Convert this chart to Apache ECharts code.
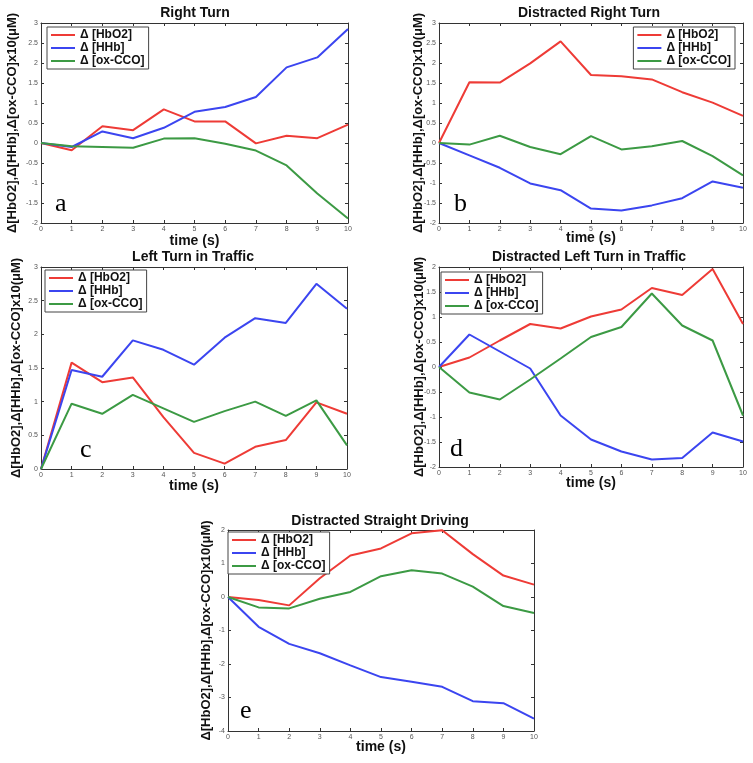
<!DOCTYPE html>
<html>
<head>
<meta charset="utf-8">
<script src="https://cdn.jsdelivr.net/npm/echarts@6/dist/echarts.min.js"></script>
<style>
  html, body { margin: 0; padding: 0; background: #fff; }
  #chart { width: 753px; height: 763px; }
</style>
</head>
<body>
<div id="chart"></div>
<script>
// time axis
const timeS = [0, 1, 2, 3, 4, 5, 6, 7, 8, 9, 10];
const seriesNames = ['Δ [HbO2]', 'Δ [HHb]', 'Δ [ox-CCO]'];

// a - Right Turn
const rtHbO2 = [0, -0.18, 0.42, 0.32, 0.84, 0.54, 0.54, -0.01, 0.18, 0.12, 0.46];
const rtHHb = [0, -0.1, 0.29, 0.12, 0.38, 0.78, 0.9, 1.15, 1.89, 2.14, 2.85];
const rtOxCCO = [0, -0.08, -0.1, -0.12, 0.11, 0.12, -0.02, -0.19, -0.56, -1.26, -1.89];

// b - Distracted Right Turn
const drtHbO2 = [0, 1.52, 1.51, 1.99, 2.54, 1.7, 1.67, 1.59, 1.27, 1.01, 0.68];
const drtHHb = [0, -0.31, -0.62, -1.01, -1.18, -1.64, -1.69, -1.56, -1.38, -0.96, -1.12];
const drtOxCCO = [0, -0.04, 0.18, -0.1, -0.28, 0.17, -0.16, -0.08, 0.05, -0.33, -0.81];

// c - Left Turn in Traffic
const ltHbO2 = [0, 1.58, 1.29, 1.36, 0.77, 0.24, 0.08, 0.33, 0.43, 0.99, 0.82];
const ltHHb = [0, 1.47, 1.37, 1.91, 1.77, 1.55, 1.95, 2.24, 2.17, 2.75, 2.38];
const ltOxCCO = [0, 0.97, 0.82, 1.1, 0.9, 0.7, 0.86, 1.0, 0.79, 1.02, 0.35];

// d - Distracted Left Turn in Traffic
const dltHbO2 = [0, 0.19, 0.53, 0.86, 0.77, 1.01, 1.15, 1.58, 1.44, 1.96, 0.86];
const dltHHb = [0, 0.65, 0.31, -0.03, -0.97, -1.45, -1.69, -1.85, -1.82, -1.31, -1.49];
const dltOxCCO = [0, -0.51, -0.65, -0.25, 0.17, 0.6, 0.8, 1.47, 0.83, 0.53, -0.97];

// e - Distracted Straight Driving
const dsdHbO2 = [0, -0.09, -0.25, 0.56, 1.24, 1.45, 1.9, 1.99, 1.28, 0.64, 0.37];
const dsdHHb = [0, -0.89, -1.4, -1.68, -2.04, -2.39, -2.53, -2.68, -3.11, -3.17, -3.63];
const dsdOxCCO = [0, -0.31, -0.34, -0.05, 0.15, 0.62, 0.8, 0.7, 0.31, -0.27, -0.48];

const colors = ['#ee3b36', '#3b45f0', '#3c9a44'];
const sansFont = '"Liberation Sans", Arial, sans-serif';

// panel layout
const panels = [
  { title: 'Right Turn', letter: 'a', data: [rtHbO2, rtHHb, rtOxCCO],
    grid: [41, 23, 307, 200], y: [-2, 3, 0.5], titleX: 195, titleY: 6,
    legend: { left: 47, top: 27 }, nameGap: 22, xGap: 11, letterPos: [55, 204] },
  { title: 'Distracted Right Turn', letter: 'b', data: [drtHbO2, drtHHb, drtOxCCO],
    grid: [439, 23, 304, 200], y: [-2, 3, 0.5], titleX: 589, titleY: 6,
    legend: { right: 18, top: 27 }, nameGap: 14, xGap: 8, letterPos: [454, 204] },
  { title: 'Left Turn in Traffic', letter: 'c', data: [ltHbO2, ltHHb, ltOxCCO],
    grid: [41, 267, 306, 202], y: [0, 3, 0.5], titleX: 193, titleY: 250,
    legend: { left: 45, top: 270 }, nameGap: 18, xGap: 10, letterPos: [80, 450] },
  { title: 'Distracted Left Turn in Traffic', letter: 'd', data: [dltHbO2, dltHHb, dltOxCCO],
    grid: [439, 267, 304, 200], y: [-2, 2, 0.5], titleX: 589, titleY: 250,
    legend: { left: 441, top: 272 }, nameGap: 13, xGap: 9, letterPos: [450, 449] },
  { title: 'Distracted Straight Driving', letter: 'e', data: [dsdHbO2, dsdHHb, dsdOxCCO],
    grid: [228, 530, 306, 201], y: [-4, 2, 1], titleX: 380, titleY: 514,
    legend: { left: 228, top: 532 }, nameGap: 15, xGap: 9, letterPos: [240, 711] }
];

const chart = echarts.init(document.getElementById('chart'));

const grids = [], xAxes = [], yAxes = [], series = [], titles = [], legends = [], texts = [];

const axisLine = { show: true, onZero: false, lineStyle: { color: '#333', width: 1 } };
const tickStyle = { show: true, inside: true, length: 3, lineStyle: { color: '#333' } };
const tickLabel = { fontSize: 7, color: '#555', fontFamily: sansFont, margin: 3 };

panels.forEach((p, i) => {
  grids.push({ left: p.grid[0], top: p.grid[1], width: p.grid[2], height: p.grid[3],
    show: true, backgroundColor: '#fff', borderWidth: 0 });

  // bottom + top x axes
  xAxes.push({
    type: 'value', gridIndex: i, min: 0, max: 10, interval: 1, position: 'bottom',
    axisLine, axisTick: tickStyle, splitLine: { show: false },
    axisLabel: tickLabel,
    name: 'time (s)', nameLocation: 'middle', nameGap: p.xGap, nameMoveOverlap: false,
    nameTextStyle: { fontSize: 14, fontWeight: 'bold', color: '#111', fontFamily: sansFont }
  });
  xAxes.push({
    type: 'value', gridIndex: i, min: 0, max: 10, interval: 1, position: 'top',
    axisLine, axisTick: tickStyle, splitLine: { show: false }, axisLabel: { show: false }
  });

  // left + right y axes
  yAxes.push({
    type: 'value', gridIndex: i, min: p.y[0], max: p.y[1], interval: p.y[2], position: 'left',
    axisLine, axisTick: tickStyle, splitLine: { show: false },
    axisLabel: tickLabel,
    name: 'Δ[HbO2],Δ[HHb],Δ[ox-CCO]x10(μM)', nameLocation: 'middle', nameGap: p.nameGap,
    nameMoveOverlap: false,
    nameTextStyle: { fontSize: 13, fontWeight: 'bold', color: '#111', fontFamily: sansFont }
  });
  yAxes.push({
    type: 'value', gridIndex: i, min: p.y[0], max: p.y[1], interval: p.y[2], position: 'right',
    axisLine, axisTick: tickStyle, splitLine: { show: false }, axisLabel: { show: false }
  });

  p.data.forEach((vals, k) => {
    series.push({
      name: seriesNames[k], type: 'line', xAxisIndex: 2 * i, yAxisIndex: 2 * i,
      symbol: 'none', color: colors[k], lineStyle: { width: 2, color: colors[k] },
      data: timeS.map((t, j) => [t, vals[j]])
    });
  });

  titles.push({
    text: p.title, left: p.titleX, top: p.titleY, textAlign: 'center', padding: 0,
    textStyle: { fontSize: 14, fontWeight: 'bold', color: '#111', fontFamily: sansFont }
  });

  legends.push(Object.assign({
    orient: 'vertical', data: seriesNames, icon: 'rect', itemWidth: 24, itemHeight: 2,
    itemGap: 1, padding: [2, 4, 2, 4], backgroundColor: '#fff', borderColor: '#444',
    borderWidth: 1, selectedMode: false,
    textStyle: { fontSize: 12, fontWeight: 'bold', color: '#111', fontFamily: sansFont, lineHeight: 12 }
  }, p.legend));

  texts.push({
    type: 'text', x: p.letterPos[0], y: p.letterPos[1], z: 100,
    style: { text: p.letter, font: '26px "Liberation Serif", "Times New Roman", serif',
      fill: '#000', verticalAlign: 'middle' }
  });
});

chart.setOption({
  animation: false,
  title: titles,
  legend: legends,
  grid: grids,
  xAxis: xAxes,
  yAxis: yAxes,
  series: series,
  graphic: texts
});
</script>
</body>
</html>
